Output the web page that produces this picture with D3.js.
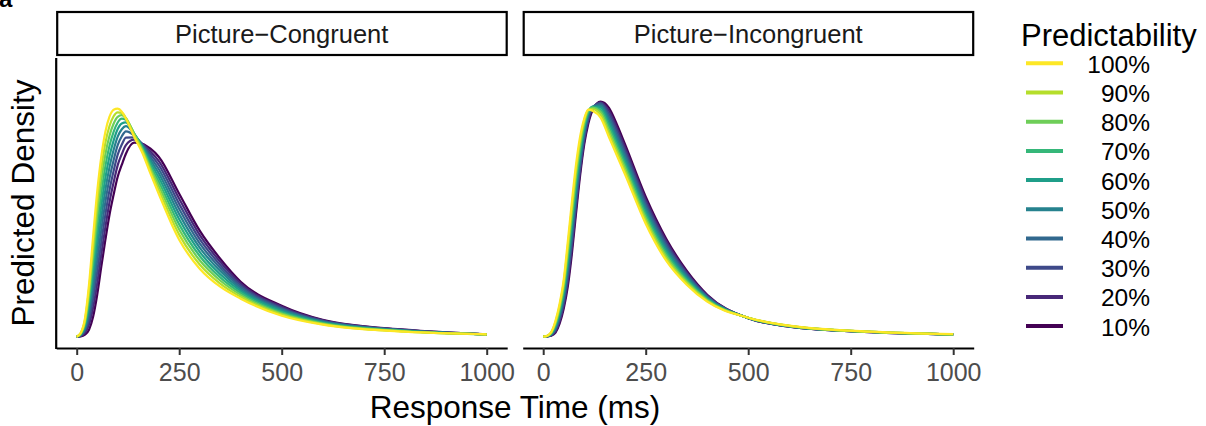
<!DOCTYPE html>
<html>
<head>
<meta charset="utf-8">
<script src="https://cdn.jsdelivr.net/npm/d3@7"></script>
<style>
  body { margin: 0; background: #fff; }
  svg { display: block; font-family: "Liberation Sans", Arial, Helvetica, sans-serif; }
</style>
</head>
<body>
<div id="chart"></div>
<script>
// response time grid (ms) shared by every curve
const times = [0, 10, 20, 30, 40, 50, 60, 70, 80, 90, 100, 110, 120, 140, 160, 180, 200, 250, 300, 350, 400, 500, 600, 800, 1000];
const predictability = ['10%', '20%', '30%', '40%', '50%', '60%', '70%', '80%', '90%', '100%'];
const panels = ['Picture\u2212Congruent', 'Picture\u2212Incongruent'];
const xTicks = [0, 250, 500, 750, 1000];

// predicted density (arbitrary units), rows ordered 10% -> 100%
const congruentDensity = [
    [0, 0.3, 2, 7, 20, 42, 70, 97, 122, 142, 160, 172, 183, 194, 193, 188, 180, 143, 106, 78, 55, 31, 17, 7, 2.4],
    [0, 0.7, 3.8, 12, 28.9, 53.4, 82.2, 109.8, 134.5, 154.2, 171.6, 182.6, 191.6, 197.1, 192.8, 185.2, 175.9, 137.9, 101.8, 74.9, 53.1, 29.9, 16.4, 6.8, 2.4],
    [0, 1.1, 5.6, 17, 37.8, 64.9, 94.4, 122.4, 146.6, 165.7, 182.0, 192.1, 199.1, 199.4, 192.4, 182.4, 171.8, 132.8, 97.6, 71.8, 51.2, 28.8, 15.9, 6.6, 2.4],
    [0, 1.5, 7.3, 22, 46.7, 76.3, 106.7, 134.8, 158.3, 176.5, 191.6, 200.4, 205.4, 201.3, 191.8, 179.7, 167.7, 127.7, 93.3, 68.7, 49.3, 27.7, 15.3, 6.3, 2.4],
    [0, 1.9, 9.1, 27, 55.6, 87.8, 118.9, 147.0, 169.6, 186.7, 200.1, 207.5, 210.5, 202.6, 191.0, 176.9, 163.6, 122.6, 89.1, 65.6, 47.4, 26.6, 14.8, 6.1, 2.4],
    [0, 2.4, 10.9, 32, 64.4, 99.2, 131.1, 159.0, 180.4, 196.1, 207.7, 213.3, 214.3, 203.2, 190.0, 174.1, 159.4, 117.4, 84.9, 62.4, 45.6, 25.4, 14.2, 5.9, 2.4],
    [0, 2.8, 12.7, 37, 73.3, 110.7, 143.3, 170.8, 190.9, 204.9, 214.2, 218.0, 217.0, 203.3, 188.8, 171.3, 155.3, 112.3, 80.7, 59.3, 43.7, 24.3, 13.7, 5.7, 2.4],
    [0, 3.2, 14.4, 42, 82.2, 122.1, 155.6, 182.4, 201.0, 212.9, 219.8, 221.5, 218.5, 202.8, 187.4, 168.6, 151.2, 107.2, 76.4, 56.2, 41.8, 23.2, 13.1, 5.4, 2.4],
    [0, 3.6, 16.2, 47, 91.1, 133.6, 167.8, 193.8, 210.7, 220.4, 224.4, 223.8, 218.8, 201.7, 185.8, 165.8, 147.1, 102.1, 72.2, 53.1, 39.9, 22.1, 12.6, 5.2, 2.4],
    [0, 4, 18, 52, 100, 145, 180, 205, 220, 227, 228, 225, 218, 200, 184, 163, 143, 97, 68, 50, 38, 21, 12, 5, 2.4]
];

const incongruentDensity = [
    [0, 0.3, 1, 4, 13, 28, 50, 83, 123, 161, 192, 213, 226, 235, 229, 212, 192, 140, 98, 66, 42, 18.5, 10, 4.5, 2.2],
    [0, 0.4, 1.4, 5.3, 15.2, 31.2, 55, 88.8, 128.4, 165.3, 195.7, 215.8, 227.6, 234.4, 226.2, 208.6, 188.7, 137, 95.6, 64.4, 41.2, 18.6, 10.1, 4.6, 2.2],
    [0, 0.5, 1.9, 6.7, 17.4, 34.4, 60, 94.6, 133.9, 169.7, 199.2, 218.2, 228.8, 233.5, 223.3, 205.1, 185.3, 134, 93.1, 62.9, 40.4, 18.6, 10.2, 4.6, 2.3],
    [0, 0.5, 2.3, 8, 19.7, 37.7, 65, 100.3, 139.3, 174, 202.5, 220.4, 229.6, 232.4, 220.2, 201.7, 182, 131, 90.7, 61.3, 39.7, 18.7, 10.3, 4.7, 2.3],
    [0, 0.6, 2.8, 9.3, 21.9, 40.9, 70, 106.1, 144.8, 178.3, 205.6, 222.2, 230, 230.9, 217.1, 198.2, 178.7, 128, 88.2, 59.8, 38.9, 18.7, 10.4, 4.7, 2.3],
    [0, 0.7, 3.2, 10.7, 24.1, 44.1, 75, 111.9, 150.2, 182.7, 208.4, 223.8, 230, 229.1, 213.9, 194.8, 175.3, 125, 85.8, 58.2, 38.1, 18.8, 10.6, 4.8, 2.4],
    [0, 0.8, 3.7, 12, 26.3, 47.3, 80, 117.7, 155.7, 187, 211.1, 225, 229.6, 227, 210.6, 191.3, 172, 122, 83.3, 56.7, 37.3, 18.8, 10.7, 4.8, 2.4],
    [0, 0.8, 4.1, 13.3, 28.6, 50.6, 85, 123.4, 161.1, 191.3, 213.6, 226, 228.8, 224.7, 207.1, 187.9, 168.7, 119, 80.9, 55.1, 36.6, 18.9, 10.8, 4.9, 2.4],
    [0, 0.9, 4.6, 14.7, 30.8, 53.8, 90, 129.2, 166.6, 195.7, 215.9, 226.6, 227.6, 222, 203.6, 184.4, 165.3, 116, 78.4, 53.6, 35.8, 18.9, 10.9, 4.9, 2.5],
    [0, 1, 5, 16, 33, 57, 95, 135, 172, 200, 218, 227, 226, 219, 200, 181, 162, 113, 76, 52, 35, 19, 11, 5, 2.5]
];

const panelData = [congruentDensity, incongruentDensity];

const width = 1206, height = 426;
const panelTop = 58, panelBottom = 348;
const panelX = [[56.2, 507.2], [522.7, 973.7]];

const svg = d3.select('#chart').append('svg')
    .attr('width', width)
    .attr('height', height);

const color = d3.scaleOrdinal()
    .domain(predictability)
    .range(d3.quantize(d3.interpolateViridis, predictability.length));

const y = d3.scaleLinear()
    .domain([-11.3, 278.7])
    .range([panelBottom, panelTop]);

panels.forEach((name, p) => {
    const x = d3.scaleLinear()
        .domain([-50, 1050])
        .range(panelX[p]);

    const g = svg.append('g');

    // strip
    g.append('rect')
        .attr('x', panelX[p][0] + 1)
        .attr('y', 12)
        .attr('width', panelX[p][1] - panelX[p][0] - 1.5)
        .attr('height', 43)
        .attr('fill', '#fff')
        .attr('stroke', '#000')
        .attr('stroke-width', 2.2);

    g.append('text')
        .attr('x', (panelX[p][0] + panelX[p][1]) / 2)
        .attr('y', 43)
        .attr('text-anchor', 'middle')
        .attr('font-size', 25.5)
        .attr('fill', '#1a1a1a')
        .text(name);

    // curves, 10% first so 100% ends on top
    const line = d3.line()
        .x((d, i) => x(times[i]))
        .y(d => y(d))
        .curve(d3.curveMonotoneX);

    g.selectAll('path.curve')
        .data(panelData[p])
        .enter()
        .append('path')
        .attr('class', 'curve')
        .attr('fill', 'none')
        .attr('stroke', (d, i) => color(predictability[i]))
        .attr('stroke-width', 2.2)
        .attr('stroke-linejoin', 'round')
        .attr('d', line);

    // x axis
    const xAxis = g.append('g')
        .attr('transform', `translate(0,${panelBottom})`)
        .call(d3.axisBottom(x)
            .tickValues(xTicks)
            .tickFormat(d3.format('d'))
            .tickSize(7)
            .tickPadding(8)
            .tickSizeOuter(0));
    xAxis.select('.domain').attr('stroke', '#000').attr('stroke-width', 2.2);
    xAxis.selectAll('.tick line').attr('stroke', '#333').attr('stroke-width', 2);
    xAxis.selectAll('.tick text')
        .attr('fill', '#4d4d4d')
        .attr('font-size', 25)
        .attr('font-family', '"Liberation Sans", Arial, sans-serif');

    if (p === 0) {
        g.append('line')
            .attr('x1', panelX[0][0])
            .attr('x2', panelX[0][0])
            .attr('y1', panelTop)
            .attr('y2', panelBottom + 1.1)
            .attr('stroke', '#000')
            .attr('stroke-width', 2.2);
    }
});

// axis titles
svg.append('text')
    .attr('x', (panelX[0][0] + panelX[1][1]) / 2)
    .attr('y', 418)
    .attr('text-anchor', 'middle')
    .attr('font-size', 31.5)
    .text('Response Time (ms)');

svg.append('text')
    .attr('transform', `translate(34,${(panelTop + panelBottom) / 2}) rotate(-90)`)
    .attr('text-anchor', 'middle')
    .attr('font-size', 31.5)
    .text('Predicted Density');

// panel tag, its top is cut off by the page edge as in the source figure
svg.append('text')
    .attr('x', -1)
    .attr('y', 7)
    .attr('font-size', 24)
    .attr('font-weight', 'bold')
    .text('a');

// legend
const legend = svg.append('g');
legend.append('text')
    .attr('x', 1021)
    .attr('y', 45.5)
    .attr('font-size', 31)
    .text('Predictability');

const items = legend.selectAll('g.item')
    .data(predictability.slice().reverse())
    .enter()
    .append('g')
    .attr('class', 'item')
    .attr('transform', (d, i) => `translate(0,${63.3 + i * 29.2})`);

items.append('line')
    .attr('x1', 1026)
    .attr('x2', 1063)
    .attr('stroke', d => color(d))
    .attr('stroke-width', 4);

items.append('text')
    .attr('x', 1150)
    .attr('y', 9.5)
    .attr('text-anchor', 'end')
    .attr('font-size', 24.5)
    .text(d => d);
</script>
</body>
</html>
